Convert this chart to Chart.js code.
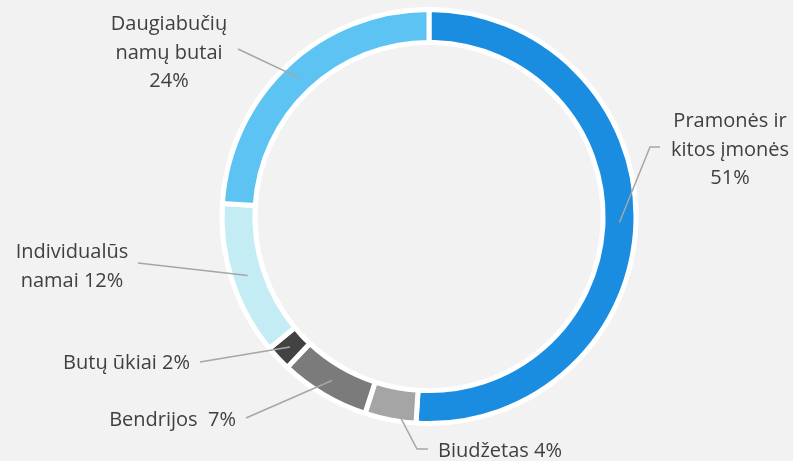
<!DOCTYPE html>
<html>
<head>
<meta charset="utf-8">
<script src="https://cdn.jsdelivr.net/npm/chart.js@4/dist/chart.umd.min.js"></script>
<style>
html,body{margin:0;padding:0;background:#f2f2f2;}
#wrap{width:793px;height:461px;position:relative;}
</style>
</head>
<body>
<div id="wrap"><canvas id="c"></canvas></div>
<script>
// Data
const categories = ["Pramonės ir kitos įmonės", "Biudžetas", "Bendrijos", "Butų ūkiai", "Individualūs namai", "Daugiabučių namų butai"];
const values = [51, 4, 7, 2, 12, 24];
const colors = ["#1b8de0", "#a5a5a5", "#7b7b7b", "#424242", "#c3ecf5", "#5cc3f3"];
// Label text lines for each category
const labelLines = [
  ["Pramonės ir", "kitos įmonės", "51%"],
  ["Biudžetas 4%"],
  ["Bendrijos  7%"],
  ["Butų ūkiai 2%"],
  ["Individualūs", "namai 12%"],
  ["Daugiabučių", "namų butai", "24%"]
];
// label placement: x, first baseline y, align, leader path start points
const labelLayout = [
  {x: 730, y: 127, align: "center", path: [[660,147],[650,147]]},
  {x: 438, y: 457, align: "left",   path: [[428,449],[417,449]]},
  {x: 236, y: 426, align: "right",  path: [[246,418]]},
  {x: 190, y: 369, align: "right",  path: [[200,362]]},
  {x: 72,  y: 258, align: "center", path: [[138,263]]},
  {x: 169, y: 30,  align: "center", path: [[238,49]]}
];

const labelPlugin = {
  id: "labels",
  afterDraw(chart) {
    const ctx = chart.ctx;
    const meta = chart.getDatasetMeta(0);
    ctx.save();
    meta.data.forEach((arc, i) => {
      const p = arc.getProps(["x","y","startAngle","endAngle","innerRadius","outerRadius"], true);
      const mid = (p.startAngle + p.endAngle) / 2;
      const r = (p.innerRadius + p.outerRadius) / 2;
      const ex = p.x + Math.cos(mid) * r;
      const ey = p.y + Math.sin(mid) * r;
      const L = labelLayout[i];
      ctx.strokeStyle = "#a6a6a6";
      ctx.lineWidth = 1.5;
      ctx.beginPath();
      ctx.moveTo(L.path[0][0], L.path[0][1]);
      for (let k = 1; k < L.path.length; k++) ctx.lineTo(L.path[k][0], L.path[k][1]);
      ctx.lineTo(ex, ey);
      ctx.stroke();
      ctx.fillStyle = "#404040";
      ctx.font = "20px 'Open Sans'";
      ctx.textAlign = L.align;
      ctx.textBaseline = "alphabetic";
      labelLines[i].forEach((t, j) => ctx.fillText(t, L.x, L.y + j * 28.5));
    });
    ctx.restore();
  }
};

new Chart(document.getElementById("c"), {
  type: "doughnut",
  data: {
    labels: categories,
    datasets: [{
      data: values,
      backgroundColor: colors,
      borderColor: "#ffffff",
      borderWidth: 5
    }]
  },
  options: {
    responsive: true,
    maintainAspectRatio: false,
    animation: false,
    radius: 207,
    cutout: 180,
    layout: {padding: {left: 65, right: 0, top: 0, bottom: 28}},
    plugins: {legend: {display: false}, tooltip: {enabled: false}}
  },
  plugins: [labelPlugin]
});
</script>
</body>
</html>
